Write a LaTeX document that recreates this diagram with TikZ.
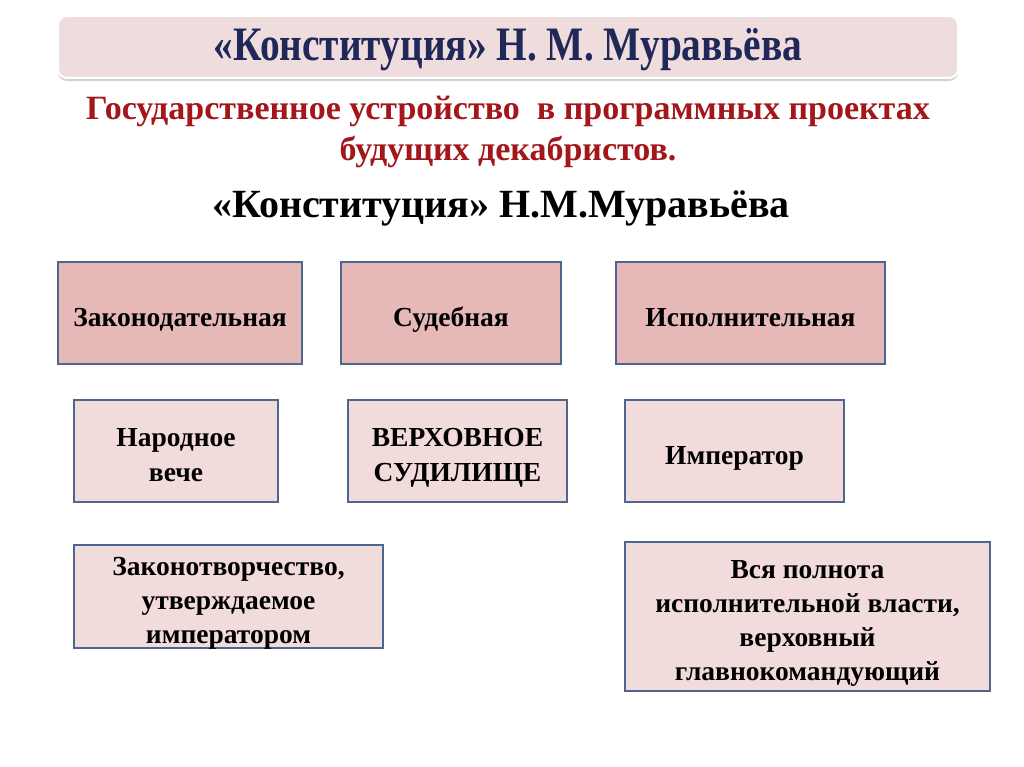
\documentclass[tikz,border=0pt]{standalone}
\usepackage{fontspec}
\setmainfont{Liberation Serif}
\newfontfamily\titlefont[FakeStretch=0.82]{Liberation Serif}
\usetikzlibrary{shadows}

\definecolor{bannerpink}{HTML}{EFDCDC}
\definecolor{navy}{HTML}{1F2858}
\definecolor{darkred}{HTML}{A3171B}
\definecolor{frame}{HTML}{4C6690}
\definecolor{rosedark}{HTML}{E6B9B8}
\definecolor{roselight}{HTML}{F2DCDB}

% taller first line, pushes the text a little down
\newcommand{\topstrut}{\rule{0pt}{26pt}}

\tikzset{
  branch/.style={draw=frame,line width=2pt,fill=rosedark,align=center,
    minimum height=102pt,inner sep=0pt,text depth=0pt,
    font=\bfseries\fontsize{27.5}{34.3}\selectfont},
  organ/.style={branch,fill=roselight},
}

\begin{document}
\begin{tikzpicture}[x=1pt,y=-1pt]
        \useasboundingbox[fill=white] (0,0) rectangle (1024,767) ;
        % banner
        \draw[rounded corners=9pt,draw=white,line width=2pt,fill=bannerpink,
          drop shadow={shadow xshift=0pt,shadow yshift=-3pt,opacity=0.35}]
        (58,16) rectangle (958,78) ;
        \node[text=navy,font=\titlefont\bfseries\fontsize{48}{48}\selectfont]
        (title) at (508,50) {«Конституция» Н. М. Муравьёва} ;
        \node[text=darkred,align=center,font=\bfseries\fontsize{34}{41}\selectfont]
        (sub) at (508,132) {Государственное устройство\ \ в программных проектах\\будущих декабристов.} ;
        \node[font=\bfseries\fontsize{40}{40}\selectfont]
        (head) at (501,208) {«Конституция» Н.М.Муравьёва} ;
        % three powers
        \node[branch,minimum width=244pt] (zak) at (180,313) {\topstrut Законодательная} ;
        \node[branch,minimum width=220pt] (sud) at (451,313) {\topstrut Судебная} ;
        \node[branch,minimum width=269pt] (isp) at (750.5,313) {\topstrut Исполнительная} ;
        % organs
        \node[organ,minimum width=204pt] (veche) at (176,451) {\topstrut Народное\\вече} ;
        \node[organ,minimum width=219pt] (verh) at (457.5,451) {\topstrut ВЕРХОВНОЕ\\СУДИЛИЩЕ} ;
        \node[organ,minimum width=219pt] (imp) at (734.5,451) {\topstrut Император} ;
        % powers of the organs
        \node[organ,minimum width=309pt,minimum height=103pt] (law) at (228.5,596.5)
        {\topstrut Законотворчество,\\утверждаемое\\императором} ;
        \node[organ,minimum width=365pt,minimum height=149pt] (full) at (807.5,616.5)
        {\topstrut Вся полнота\\исполнительной власти,\\верховный\\главнокомандующий} ;
      \end{tikzpicture}
\end{document}
